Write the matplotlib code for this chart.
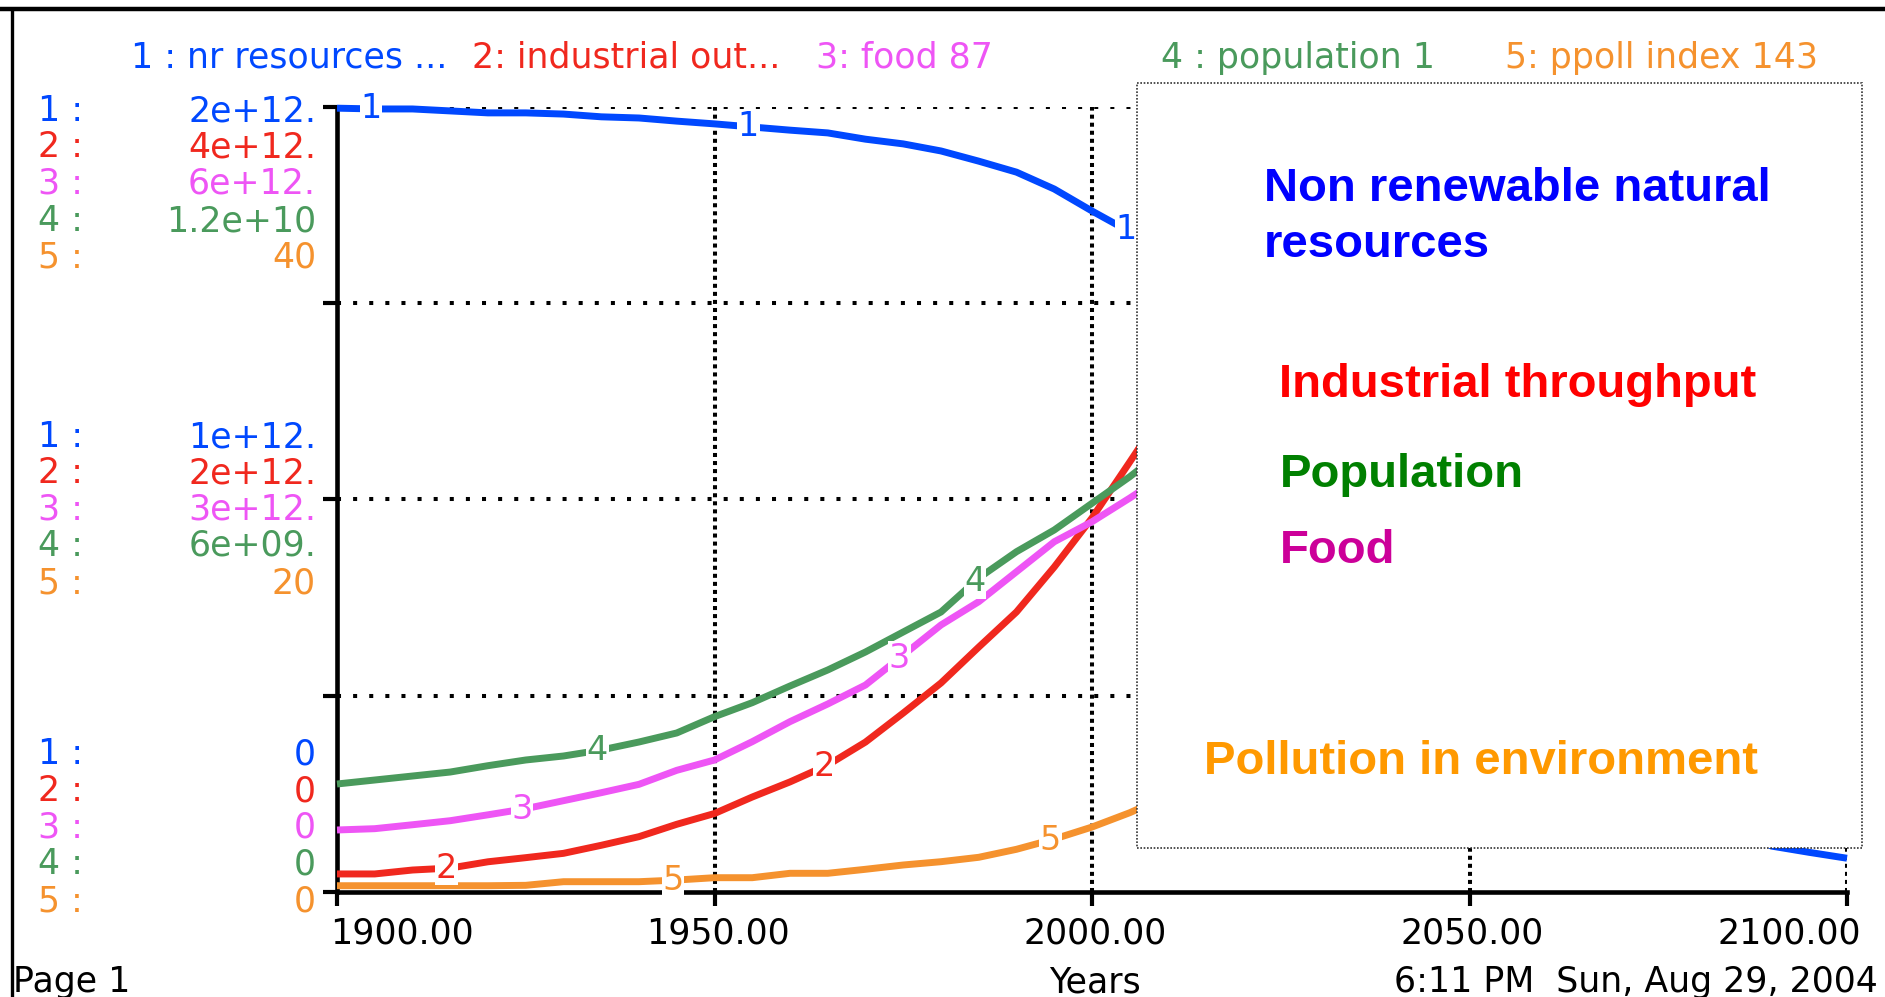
import numpy as np
import matplotlib.pyplot as plt
from matplotlib.patches import Rectangle

# ---- data ----
years = [1900, 1905, 1910, 1915, 1920, 1925, 1930, 1935, 1940, 1945, 1950, 1955,
         1960, 1965, 1970, 1975, 1980, 1985, 1990, 1995, 2000, 2005, 2010]
res_years = years + [2015, 2020, 2025, 2030, 2035, 2040, 2045, 2050, 2055, 2060,
                     2065, 2070, 2075, 2080, 2085, 2090, 2095, 2100]

# 1: nr resources (1e12)
nr_resources = [1.997, 1.995, 1.995, 1.990, 1.985, 1.985, 1.982, 1.975, 1.972, 1.964,
                1.957, 1.949, 1.941, 1.934, 1.918, 1.906, 1.888, 1.862, 1.834, 1.791,
                1.735, 1.682, 1.60, 1.50, 1.39, 1.27, 1.15, 1.03, 0.91, 0.80, 0.69,
                0.59, 0.50, 0.42, 0.35, 0.29, 0.23, 0.17, 0.117, 0.101, 0.086]
# 2: industrial output (1e12)
industrial_out = [0.092, 0.092, 0.112, 0.122, 0.154, 0.175, 0.197, 0.238, 0.282, 0.345,
                  0.400, 0.484, 0.561, 0.647, 0.764, 0.912, 1.065, 1.248, 1.427, 1.656,
                  1.906, 2.191, 2.48]
# 3: food (1e12)
food = [0.474, 0.484, 0.514, 0.545, 0.590, 0.637, 0.698, 0.759, 0.823, 0.930, 1.009,
        1.149, 1.302, 1.437, 1.582, 1.811, 2.041, 2.219, 2.448, 2.677, 2.830, 3.011, 3.2]
# 4: population (1e9)
population = [1.651, 1.712, 1.773, 1.834, 1.931, 2.018, 2.079, 2.171, 2.293, 2.431,
              2.680, 2.894, 3.149, 3.394, 3.669, 3.975, 4.280, 4.800, 5.202, 5.534,
              5.942, 6.348, 6.8]
# 5: ppoll index
ppoll_index = [0.32, 0.32, 0.32, 0.32, 0.32, 0.34, 0.525, 0.525, 0.525, 0.61, 0.729,
               0.729, 0.953, 0.953, 1.157, 1.376, 1.544, 1.768, 2.176, 2.70, 3.31, 4.04, 4.9]

scale_max = [2, 4, 6, 12, 40]
colors = ['#0048ff', '#f0281e', '#ee55f5', '#4a9a5c', '#f5922e']
top_labels = ['2e+12.', '4e+12.', '6e+12.', '1.2e+10', '40']
mid_labels = ['1e+12.', '2e+12.', '3e+12.', '6e+09.', '20']
bot_labels = ['0', '0', '0', '0', '0']
header = ['1 : nr resources ...', '2: industrial out...', '3: food 87',
          '4 : population 1', '5: ppoll index 143']
header_x = [131, 472, 816, 1161, 1505]
x_ticks = [1900, 1950, 2000, 2050, 2100]

W, H = 1885, 997
pix = 'DejaVu Sans'
fs = 25


def fx(px):
    return px / W


def fy(py):
    return 1 - py / H


fig = plt.figure(figsize=(W / 100, H / 100), dpi=100)
ax = fig.add_axes([fx(337), fy(892), (1847 - 337) / W, (892 - 107) / H])
ax.set_xlim(1900, 2100)
ax.set_ylim(0, 1)

# grid
for g in [0.25, 0.5, 0.75, 1.0]:
    ax.axhline(g, color='k', lw=2.9, ls=(0, (1, 3)), zorder=1)
for t in x_ticks[1:]:
    ax.axvline(t, color='k', lw=2.9, ls=(0, (1, 1)), zorder=1)

series = [(res_years, nr_resources), (years, industrial_out), (years, food),
          (years, population), (years, ppoll_index)]
for i, (xs, vals) in enumerate(series):
    yv = np.array(vals) / scale_max[i]
    ax.plot(xs, yv, color=colors[i], lw=5, zorder=3, clip_on=False,
            solid_capstyle='butt')
    # numbered markers along the curve
    for t in np.arange(1904.5 + 10 * i, 2100, 50):
        if t > xs[-1]:
            continue
        ax.text(t, np.interp(t, xs, yv), str(i + 1), color=colors[i], fontsize=24,
                family=pix, ha='center', va='center', zorder=4,
                bbox=dict(facecolor='white', edgecolor='none', pad=0.5))

for s in ['top', 'right']:
    ax.spines[s].set_visible(False)
for s in ['left', 'bottom']:
    ax.spines[s].set_linewidth(3.3)
ax.set_xticks(x_ticks)
ax.set_yticks([0, 0.25, 0.5, 0.75, 1.0])
ax.tick_params(direction='out', length=10, width=3, labelleft=False, labelbottom=False)

# x tick labels
for t in x_ticks:
    ha, dx = 'center', 3
    if t == 1900:
        ha, dx = 'left', -7
    elif t == 2100:
        ha, dx = 'right', 14
    ax.annotate(f'{t:.2f}', xy=(t, 0), xycoords=('data', 'axes fraction'),
                xytext=(dx * 0.72, -51 * 0.72), textcoords='offset points',
                ha=ha, va='baseline', fontsize=fs, family=pix)

# left scale labels
groups = [(top_labels, [121, 157, 194, 231, 267]),
          (mid_labels, [447, 483, 519, 556, 593]),
          (bot_labels, [764, 801, 837, 874, 911])]
for labels, bases in groups:
    for i, (lab, b) in enumerate(zip(labels, bases)):
        fig.text(fx(38), fy(b), f'{i + 1} :', color=colors[i], fontsize=fs,
                 family=pix, va='baseline', ha='left')
        fig.text(fx(316), fy(b), lab, color=colors[i], fontsize=fs,
                 family=pix, va='baseline', ha='right')

# header
for i, (txt, x) in enumerate(zip(header, header_x)):
    fig.text(fx(x), fy(68), txt, color=colors[i], fontsize=fs, family=pix,
             va='baseline', ha='left')

# footer
fig.text(fx(13), fy(992), 'Page 1', fontsize=fs, family=pix, va='baseline')
fig.text(fx(1095), fy(992), 'Years', fontsize=fs, family=pix, va='baseline', ha='center')
fig.text(fx(1878), fy(992), '6:11 PM  Sun, Aug 29, 2004', fontsize=fs, family=pix,
         va='baseline', ha='right')

# window frame
fig.add_artist(plt.Line2D([0, 1], [fy(9), fy(9)], color='k', lw=3.2,
                          transform=fig.transFigure))
fig.add_artist(plt.Line2D([fx(12), fx(12)], [0, fy(9)], color='k', lw=2.4,
                          transform=fig.transFigure))

# text overlay box
box = Rectangle((fx(1137), fy(848)), (1862 - 1137) / W, (848 - 83) / H,
                transform=fig.transFigure, facecolor='white', edgecolor='#333333',
                lw=1.2, ls=(0, (1, 1)), zorder=10)
fig.add_artist(box)
notes = [('Non renewable natural', 1264, 201, '#0000ff'),
         ('resources', 1264, 257, '#0000ff'),
         ('Industrial throughput', 1279, 397, '#ff0000'),
         ('Population', 1280, 487, '#008000'),
         ('Food', 1280, 563, '#cc0099'),
         ('Pollution in environment', 1204, 774, '#ff9900')]
for txt, x, y, c in notes:
    fig.text(fx(x), fy(y), txt, color=c, fontsize=34, fontweight='bold',
             family='Liberation Sans', va='baseline', ha='left', zorder=11)

fig.savefig('out.png', dpi=100, facecolor='white')
